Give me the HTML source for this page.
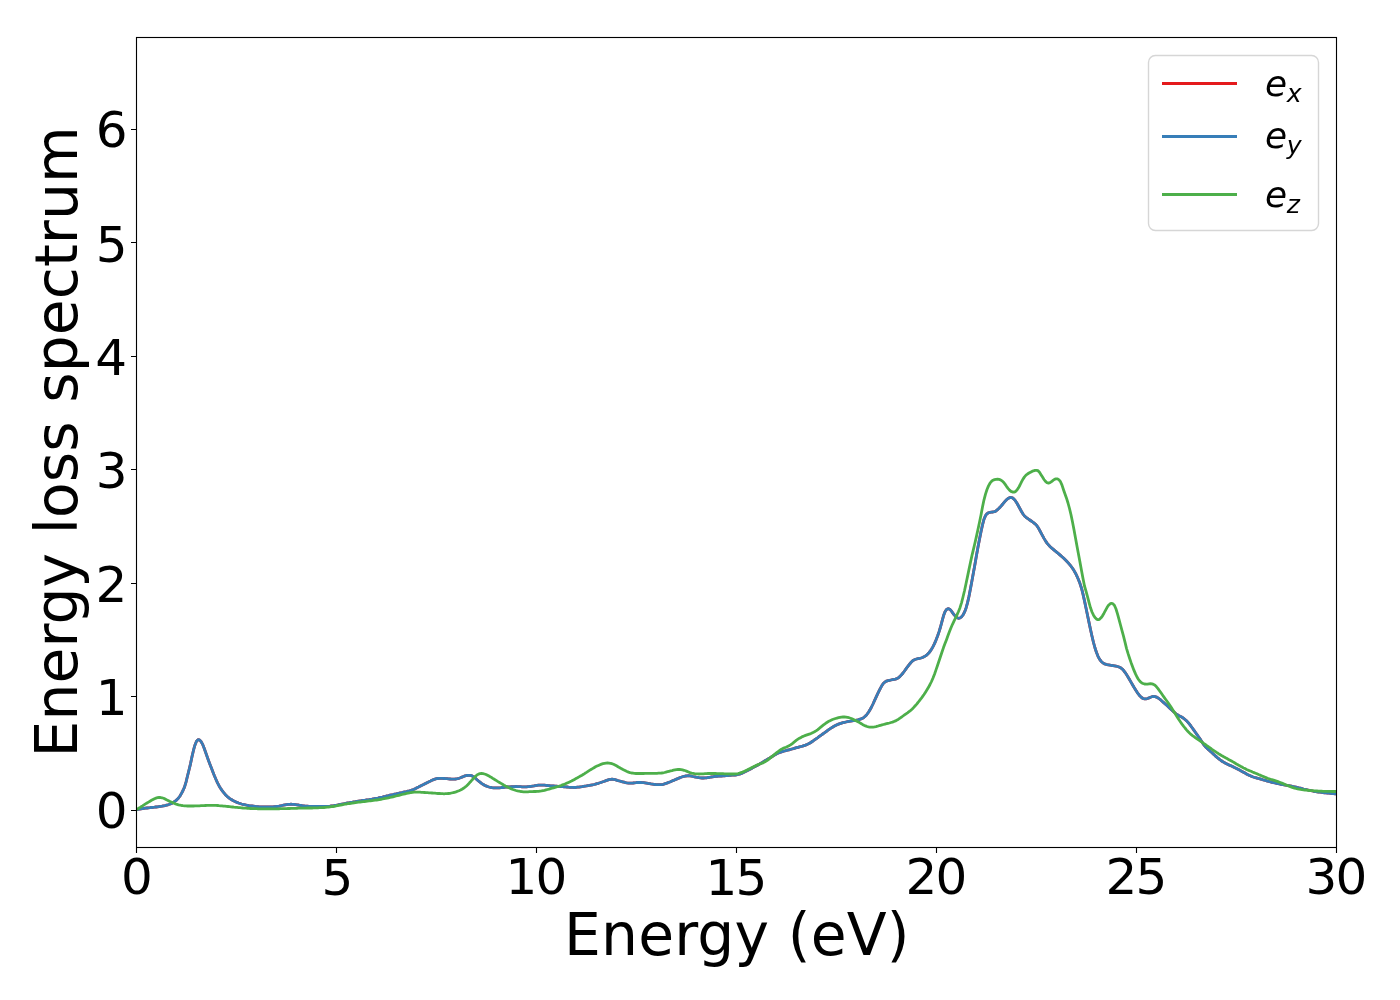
<!DOCTYPE html>
<html><head><meta charset="utf-8"><title>Energy loss spectrum</title>
<style>html,body{margin:0;padding:0;background:#fff;}svg{display:block;}</style>
</head><body>
<svg width="1400" height="1000" viewBox="0 0 1400 1000">
<rect x="0" y="0" width="1400" height="1000" fill="#fff"/>
<clipPath id="c"><rect x="136.5" y="37.5" width="1200" height="810"/></clipPath>
<g clip-path="url(#c)" fill="none" stroke-width="2.78" stroke-linejoin="round" stroke-linecap="butt">
<path d="M136.5 809.7 L138.0 809.4 L139.5 809.2 L141.0 808.9 L142.5 808.7 L144.0 808.4 L145.5 808.2 L147.0 808.0 L148.5 807.8 L150.0 807.7 L151.5 807.5 L153.0 807.3 L154.5 807.2 L156.0 807.0 L157.5 806.8 L159.0 806.6 L160.5 806.4 L162.0 806.2 L163.5 805.9 L165.0 805.6 L166.5 805.2 L168.0 804.8 L169.5 804.3 L171.0 803.7 L172.5 802.9 L174.0 801.9 L175.5 800.9 L177.0 799.6 L178.5 798.0 L180.0 796.0 L181.5 793.4 L183.0 790.5 L184.5 787.2 L186.0 782.1 L187.5 776.0 L189.0 770.0 L190.5 763.8 L192.0 756.6 L193.5 750.2 L195.0 744.9 L196.5 741.2 L198.0 739.7 L199.5 739.9 L201.0 741.5 L202.5 744.1 L204.0 747.8 L205.5 752.0 L207.0 756.3 L208.5 760.4 L210.0 764.4 L211.5 768.3 L213.0 772.2 L214.5 776.0 L216.0 779.5 L217.5 782.8 L219.0 785.7 L220.5 788.2 L222.0 790.4 L223.5 792.4 L225.0 794.2 L226.5 795.8 L228.0 797.2 L229.5 798.3 L231.0 799.3 L232.5 800.2 L234.0 801.0 L235.5 801.7 L237.0 802.4 L238.5 803.0 L240.0 803.5 L241.5 804.0 L243.0 804.4 L244.5 804.7 L246.0 805.0 L247.5 805.3 L249.0 805.6 L250.5 805.8 L252.0 806.0 L253.5 806.2 L255.0 806.4 L256.5 806.6 L258.0 806.7 L259.5 806.8 L261.0 806.9 L262.5 807.0 L264.0 807.0 L265.5 807.0 L267.0 807.0 L268.5 807.0 L270.0 806.9 L271.5 806.9 L273.0 806.8 L274.5 806.6 L276.0 806.5 L277.5 806.3 L279.0 806.1 L280.5 805.8 L282.0 805.5 L283.5 805.2 L285.0 804.9 L286.5 804.6 L288.0 804.4 L289.5 804.3 L291.0 804.2 L292.5 804.3 L294.0 804.4 L295.5 804.6 L297.0 804.8 L298.5 805.0 L300.0 805.3 L301.5 805.5 L303.0 805.8 L304.5 806.0 L306.0 806.1 L307.5 806.2 L309.0 806.3 L310.5 806.4 L312.0 806.5 L313.5 806.5 L315.0 806.5 L316.5 806.5 L318.0 806.5 L319.5 806.5 L321.0 806.5 L322.5 806.4 L324.0 806.4 L325.5 806.4 L327.0 806.4 L328.5 806.3 L330.0 806.2 L331.5 806.0 L333.0 805.8 L334.5 805.5 L336.0 805.3 L337.5 805.0 L339.0 804.7 L340.5 804.4 L342.0 804.1 L343.5 803.8 L345.0 803.5 L346.5 803.2 L348.0 802.9 L349.5 802.7 L351.0 802.4 L352.5 802.2 L354.0 801.9 L355.5 801.7 L357.0 801.4 L358.5 801.2 L360.0 801.0 L361.5 800.7 L363.0 800.5 L364.5 800.3 L366.0 800.0 L367.5 799.8 L369.0 799.6 L370.5 799.3 L372.0 799.1 L373.5 798.8 L375.0 798.5 L376.5 798.3 L378.0 798.0 L379.5 797.6 L381.0 797.3 L382.5 797.0 L384.0 796.6 L385.5 796.3 L387.0 795.9 L388.5 795.6 L390.0 795.2 L391.5 794.9 L393.0 794.6 L394.5 794.2 L396.0 793.9 L397.5 793.5 L399.0 793.2 L400.5 792.8 L402.0 792.5 L403.5 792.1 L405.0 791.8 L406.5 791.5 L408.0 791.1 L409.5 790.8 L411.0 790.4 L412.5 789.9 L414.0 789.2 L415.5 788.6 L417.0 787.8 L418.5 787.1 L420.0 786.3 L421.5 785.5 L423.0 784.8 L424.5 784.0 L426.0 783.2 L427.5 782.4 L429.0 781.7 L430.5 781.0 L432.0 780.2 L433.5 779.6 L435.0 779.1 L436.5 778.7 L438.0 778.5 L439.5 778.3 L441.0 778.3 L442.5 778.4 L444.0 778.5 L445.5 778.6 L447.0 778.7 L448.5 778.9 L450.0 779.0 L451.5 779.1 L453.0 779.2 L454.5 779.2 L456.0 779.0 L457.5 778.7 L459.0 778.3 L460.5 777.8 L462.0 777.1 L463.5 776.5 L465.0 775.9 L466.5 775.5 L468.0 775.3 L469.5 775.3 L471.0 775.5 L472.5 776.1 L474.0 777.0 L475.5 778.3 L477.0 779.7 L478.5 781.0 L480.0 782.2 L481.5 783.3 L483.0 784.3 L484.5 785.2 L486.0 785.9 L487.5 786.5 L489.0 787.0 L490.5 787.3 L492.0 787.6 L493.5 787.8 L495.0 787.9 L496.5 787.9 L498.0 787.9 L499.5 787.8 L501.0 787.7 L502.5 787.5 L504.0 787.3 L505.5 787.1 L507.0 787.0 L508.5 786.9 L510.0 786.8 L511.5 786.7 L513.0 786.6 L514.5 786.6 L516.0 786.5 L517.5 786.6 L519.0 786.7 L520.5 786.7 L522.0 786.8 L523.5 786.9 L525.0 786.9 L526.5 786.8 L528.0 786.6 L529.5 786.5 L531.0 786.3 L532.5 786.1 L534.0 785.9 L535.5 785.6 L537.0 785.4 L538.5 785.2 L540.0 785.1 L541.5 785.1 L543.0 785.1 L544.5 785.2 L546.0 785.3 L547.5 785.5 L549.0 785.6 L550.5 785.8 L552.0 785.9 L553.5 786.0 L555.0 786.1 L556.5 786.2 L558.0 786.3 L559.5 786.4 L561.0 786.5 L562.5 786.7 L564.0 786.8 L565.5 786.9 L567.0 787.0 L568.5 787.2 L570.0 787.3 L571.5 787.4 L573.0 787.4 L574.5 787.5 L576.0 787.4 L577.5 787.2 L579.0 787.1 L580.5 786.8 L582.0 786.6 L583.5 786.3 L585.0 786.1 L586.5 785.9 L588.0 785.6 L589.5 785.4 L591.0 785.1 L592.5 784.8 L594.0 784.5 L595.5 784.1 L597.0 783.7 L598.5 783.3 L600.0 782.8 L601.5 782.2 L603.0 781.7 L604.5 781.2 L606.0 780.6 L607.5 780.1 L609.0 779.6 L610.5 779.3 L612.0 779.2 L613.5 779.4 L615.0 779.7 L616.5 780.1 L618.0 780.6 L619.5 781.0 L621.0 781.4 L622.5 781.8 L624.0 782.2 L625.5 782.6 L627.0 782.9 L628.5 783.1 L630.0 783.1 L631.5 783.1 L633.0 783.0 L634.5 782.8 L636.0 782.7 L637.5 782.5 L639.0 782.5 L640.5 782.5 L642.0 782.6 L643.5 782.7 L645.0 782.9 L646.5 783.1 L648.0 783.4 L649.5 783.6 L651.0 783.9 L652.5 784.1 L654.0 784.3 L655.5 784.5 L657.0 784.6 L658.5 784.7 L660.0 784.7 L661.5 784.6 L663.0 784.3 L664.5 783.9 L666.0 783.4 L667.5 782.9 L669.0 782.3 L670.5 781.7 L672.0 781.0 L673.5 780.4 L675.0 779.7 L676.5 779.1 L678.0 778.5 L679.5 777.9 L681.0 777.3 L682.5 776.8 L684.0 776.3 L685.5 776.0 L687.0 775.8 L688.5 775.7 L690.0 775.9 L691.5 776.1 L693.0 776.5 L694.5 776.8 L696.0 777.2 L697.5 777.4 L699.0 777.7 L700.5 777.9 L702.0 778.0 L703.5 778.0 L705.0 777.9 L706.5 777.8 L708.0 777.5 L709.5 777.3 L711.0 777.0 L712.5 776.8 L714.0 776.6 L715.5 776.4 L717.0 776.3 L718.5 776.2 L720.0 776.1 L721.5 776.0 L723.0 775.9 L724.5 775.8 L726.0 775.7 L727.5 775.6 L729.0 775.4 L730.5 775.3 L732.0 775.2 L733.5 775.1 L735.0 775.0 L736.5 774.8 L738.0 774.5 L739.5 774.2 L741.0 773.7 L742.5 773.0 L744.0 772.3 L745.5 771.6 L747.0 770.8 L748.5 770.0 L750.0 769.2 L751.5 768.4 L753.0 767.6 L754.5 766.8 L756.0 766.0 L757.5 765.2 L759.0 764.4 L760.5 763.5 L762.0 762.6 L763.5 761.7 L765.0 760.8 L766.5 759.9 L768.0 759.0 L769.5 758.1 L771.0 757.2 L772.5 756.3 L774.0 755.3 L775.5 754.5 L777.0 753.6 L778.5 752.9 L780.0 752.4 L781.5 751.9 L783.0 751.4 L784.5 751.0 L786.0 750.6 L787.5 750.2 L789.0 749.8 L790.5 749.4 L792.0 749.0 L793.5 748.6 L795.0 748.1 L796.5 747.7 L798.0 747.3 L799.5 746.9 L801.0 746.5 L802.5 746.1 L804.0 745.6 L805.5 745.1 L807.0 744.5 L808.5 743.8 L810.0 743.0 L811.5 742.0 L813.0 741.0 L814.5 739.9 L816.0 738.8 L817.5 737.8 L819.0 736.7 L820.5 735.6 L822.0 734.5 L823.5 733.5 L825.0 732.4 L826.5 731.3 L828.0 730.2 L829.5 729.2 L831.0 728.2 L832.5 727.2 L834.0 726.3 L835.5 725.5 L837.0 724.7 L838.5 724.1 L840.0 723.6 L841.5 723.1 L843.0 722.7 L844.5 722.3 L846.0 722.0 L847.5 721.7 L849.0 721.4 L850.5 721.2 L852.0 720.9 L853.5 720.7 L855.0 720.5 L856.5 720.2 L858.0 719.9 L859.5 719.4 L861.0 718.9 L862.5 718.3 L864.0 717.3 L865.5 716.0 L867.0 714.3 L868.5 712.2 L870.0 709.8 L871.5 707.0 L873.0 704.0 L874.5 700.7 L876.0 697.4 L877.5 694.2 L879.0 691.0 L880.5 688.1 L882.0 685.4 L883.5 683.3 L885.0 681.9 L886.5 681.1 L888.0 680.6 L889.5 680.3 L891.0 680.0 L892.5 679.7 L894.0 679.4 L895.5 679.1 L897.0 678.5 L898.5 677.7 L900.0 676.4 L901.5 674.8 L903.0 673.0 L904.5 671.0 L906.0 668.9 L907.5 666.8 L909.0 664.8 L910.5 663.0 L912.0 661.4 L913.5 660.2 L915.0 659.5 L916.5 659.0 L918.0 658.6 L919.5 658.3 L921.0 658.0 L922.5 657.5 L924.0 656.8 L925.5 655.9 L927.0 654.8 L928.5 653.3 L930.0 651.5 L931.5 649.2 L933.0 646.6 L934.5 643.6 L936.0 640.1 L937.5 636.3 L939.0 631.9 L940.5 627.0 L942.0 621.3 L943.5 615.8 L945.0 611.8 L946.5 609.5 L948.0 608.7 L949.5 609.1 L951.0 610.5 L952.5 612.6 L954.0 614.7 L955.5 616.4 L957.0 617.7 L958.5 618.3 L960.0 618.0 L961.5 616.9 L963.0 615.0 L964.5 612.2 L966.0 608.2 L967.5 602.9 L969.0 596.2 L970.5 588.6 L972.0 580.5 L973.5 572.3 L975.0 564.0 L976.5 555.3 L978.0 546.9 L979.5 539.2 L981.0 531.8 L982.5 524.9 L984.0 519.2 L985.5 515.6 L987.0 513.7 L988.5 512.8 L990.0 512.3 L991.5 512.1 L993.0 512.0 L994.5 511.7 L996.0 510.9 L997.5 509.7 L999.0 508.3 L1000.5 506.7 L1002.0 505.0 L1003.5 503.2 L1005.0 501.4 L1006.5 499.8 L1008.0 498.5 L1009.5 497.7 L1011.0 497.5 L1012.5 497.9 L1014.0 499.1 L1015.5 500.9 L1017.0 503.3 L1018.5 506.0 L1020.0 508.7 L1021.5 511.5 L1023.0 514.0 L1024.5 516.0 L1026.0 517.3 L1027.5 518.4 L1029.0 519.5 L1030.5 520.5 L1032.0 521.5 L1033.5 522.6 L1035.0 523.8 L1036.5 525.3 L1038.0 527.4 L1039.5 530.0 L1041.0 532.9 L1042.5 535.7 L1044.0 538.4 L1045.5 540.9 L1047.0 543.1 L1048.5 544.9 L1050.0 546.5 L1051.5 547.9 L1053.0 549.1 L1054.5 550.4 L1056.0 551.6 L1057.5 552.8 L1059.0 554.1 L1060.5 555.4 L1062.0 556.7 L1063.5 558.0 L1065.0 559.5 L1066.5 561.0 L1068.0 562.7 L1069.5 564.4 L1071.0 566.2 L1072.5 568.3 L1074.0 570.6 L1075.5 573.2 L1077.0 576.3 L1078.5 579.8 L1080.0 583.6 L1081.5 588.2 L1083.0 594.1 L1084.5 600.9 L1086.0 608.0 L1087.5 615.2 L1089.0 622.4 L1090.5 629.5 L1092.0 636.2 L1093.5 642.5 L1095.0 648.0 L1096.5 652.5 L1098.0 656.3 L1099.5 659.2 L1101.0 661.2 L1102.5 662.6 L1104.0 663.6 L1105.5 664.2 L1107.0 664.6 L1108.5 664.9 L1110.0 665.2 L1111.5 665.5 L1113.0 665.7 L1114.5 665.9 L1116.0 666.2 L1117.5 666.5 L1119.0 667.0 L1120.5 667.7 L1122.0 668.8 L1123.5 670.3 L1125.0 672.3 L1126.5 674.6 L1128.0 677.0 L1129.5 679.5 L1131.0 682.1 L1132.5 684.7 L1134.0 687.3 L1135.5 689.7 L1137.0 692.1 L1138.5 694.2 L1140.0 696.1 L1141.5 697.5 L1143.0 698.5 L1144.5 698.9 L1146.0 698.9 L1147.5 698.5 L1149.0 697.9 L1150.5 697.2 L1152.0 696.7 L1153.5 696.5 L1155.0 696.6 L1156.5 697.1 L1158.0 697.9 L1159.5 699.0 L1161.0 700.2 L1162.5 701.6 L1164.0 702.9 L1165.5 704.2 L1167.0 705.6 L1168.5 707.0 L1170.0 708.4 L1171.5 709.8 L1173.0 711.2 L1174.5 712.5 L1176.0 713.8 L1177.5 714.8 L1179.0 715.7 L1180.5 716.4 L1182.0 717.3 L1183.5 718.2 L1185.0 719.5 L1186.5 720.8 L1188.0 722.4 L1189.5 724.2 L1191.0 726.2 L1192.5 728.3 L1194.0 730.4 L1195.5 732.5 L1197.0 734.6 L1198.5 736.7 L1200.0 738.9 L1201.5 741.2 L1203.0 743.6 L1204.5 745.6 L1206.0 747.3 L1207.5 748.8 L1209.0 750.1 L1210.5 751.5 L1212.0 752.8 L1213.5 754.2 L1215.0 755.6 L1216.5 756.9 L1218.0 758.2 L1219.5 759.4 L1221.0 760.5 L1222.5 761.5 L1224.0 762.4 L1225.5 763.3 L1227.0 764.0 L1228.5 764.7 L1230.0 765.4 L1231.5 766.0 L1233.0 766.7 L1234.5 767.5 L1236.0 768.2 L1237.5 769.0 L1239.0 769.8 L1240.5 770.6 L1242.0 771.5 L1243.5 772.3 L1245.0 773.1 L1246.5 773.9 L1248.0 774.7 L1249.5 775.4 L1251.0 776.1 L1252.5 776.7 L1254.0 777.2 L1255.5 777.7 L1257.0 778.1 L1258.5 778.5 L1260.0 778.9 L1261.5 779.3 L1263.0 779.8 L1264.5 780.2 L1266.0 780.6 L1267.5 781.1 L1269.0 781.5 L1270.5 781.9 L1272.0 782.3 L1273.5 782.6 L1275.0 783.0 L1276.5 783.3 L1278.0 783.6 L1279.5 783.9 L1281.0 784.3 L1282.5 784.5 L1284.0 784.8 L1285.5 785.1 L1287.0 785.4 L1288.5 785.6 L1290.0 785.9 L1291.5 786.2 L1293.0 786.5 L1294.5 786.8 L1296.0 787.1 L1297.5 787.5 L1299.0 787.9 L1300.5 788.2 L1302.0 788.6 L1303.5 789.0 L1305.0 789.3 L1306.5 789.7 L1308.0 790.0 L1309.5 790.3 L1311.0 790.7 L1312.5 791.0 L1314.0 791.3 L1315.5 791.5 L1317.0 791.8 L1318.5 792.0 L1320.0 792.2 L1321.5 792.4 L1323.0 792.6 L1324.5 792.8 L1326.0 792.9 L1327.5 793.1 L1329.0 793.2 L1330.5 793.3 L1332.0 793.5 L1333.5 793.6 L1335.0 793.8 L1336.5 793.9" stroke="#e41a1c"/>
<path d="M136.5 809.7 L138.0 809.4 L139.5 809.2 L141.0 808.9 L142.5 808.7 L144.0 808.4 L145.5 808.2 L147.0 808.0 L148.5 807.8 L150.0 807.7 L151.5 807.5 L153.0 807.3 L154.5 807.2 L156.0 807.0 L157.5 806.8 L159.0 806.6 L160.5 806.4 L162.0 806.2 L163.5 805.9 L165.0 805.6 L166.5 805.2 L168.0 804.8 L169.5 804.3 L171.0 803.7 L172.5 802.9 L174.0 801.9 L175.5 800.9 L177.0 799.6 L178.5 798.0 L180.0 796.0 L181.5 793.4 L183.0 790.5 L184.5 787.2 L186.0 782.1 L187.5 776.0 L189.0 770.0 L190.5 763.8 L192.0 756.6 L193.5 750.2 L195.0 744.9 L196.5 741.2 L198.0 739.7 L199.5 739.9 L201.0 741.5 L202.5 744.1 L204.0 747.8 L205.5 752.0 L207.0 756.3 L208.5 760.4 L210.0 764.4 L211.5 768.3 L213.0 772.2 L214.5 776.0 L216.0 779.5 L217.5 782.8 L219.0 785.7 L220.5 788.2 L222.0 790.4 L223.5 792.4 L225.0 794.2 L226.5 795.8 L228.0 797.2 L229.5 798.3 L231.0 799.3 L232.5 800.2 L234.0 801.0 L235.5 801.7 L237.0 802.4 L238.5 803.0 L240.0 803.5 L241.5 804.0 L243.0 804.4 L244.5 804.7 L246.0 805.0 L247.5 805.3 L249.0 805.6 L250.5 805.8 L252.0 806.0 L253.5 806.2 L255.0 806.4 L256.5 806.6 L258.0 806.7 L259.5 806.8 L261.0 806.9 L262.5 807.0 L264.0 807.0 L265.5 807.0 L267.0 807.0 L268.5 807.0 L270.0 806.9 L271.5 806.9 L273.0 806.8 L274.5 806.6 L276.0 806.5 L277.5 806.3 L279.0 806.1 L280.5 805.8 L282.0 805.5 L283.5 805.2 L285.0 804.9 L286.5 804.6 L288.0 804.4 L289.5 804.3 L291.0 804.2 L292.5 804.3 L294.0 804.4 L295.5 804.6 L297.0 804.8 L298.5 805.0 L300.0 805.3 L301.5 805.5 L303.0 805.8 L304.5 806.0 L306.0 806.1 L307.5 806.2 L309.0 806.3 L310.5 806.4 L312.0 806.5 L313.5 806.5 L315.0 806.5 L316.5 806.5 L318.0 806.5 L319.5 806.5 L321.0 806.5 L322.5 806.4 L324.0 806.4 L325.5 806.4 L327.0 806.4 L328.5 806.3 L330.0 806.2 L331.5 806.0 L333.0 805.8 L334.5 805.5 L336.0 805.3 L337.5 805.0 L339.0 804.7 L340.5 804.4 L342.0 804.1 L343.5 803.8 L345.0 803.5 L346.5 803.2 L348.0 802.9 L349.5 802.7 L351.0 802.4 L352.5 802.2 L354.0 801.9 L355.5 801.7 L357.0 801.4 L358.5 801.2 L360.0 801.0 L361.5 800.7 L363.0 800.5 L364.5 800.3 L366.0 800.0 L367.5 799.8 L369.0 799.6 L370.5 799.3 L372.0 799.1 L373.5 798.8 L375.0 798.5 L376.5 798.3 L378.0 798.0 L379.5 797.6 L381.0 797.3 L382.5 797.0 L384.0 796.6 L385.5 796.3 L387.0 795.9 L388.5 795.6 L390.0 795.2 L391.5 794.9 L393.0 794.6 L394.5 794.2 L396.0 793.9 L397.5 793.5 L399.0 793.2 L400.5 792.8 L402.0 792.5 L403.5 792.1 L405.0 791.8 L406.5 791.5 L408.0 791.1 L409.5 790.8 L411.0 790.4 L412.5 789.9 L414.0 789.2 L415.5 788.6 L417.0 787.8 L418.5 787.1 L420.0 786.3 L421.5 785.5 L423.0 784.8 L424.5 784.0 L426.0 783.2 L427.5 782.4 L429.0 781.7 L430.5 781.0 L432.0 780.2 L433.5 779.6 L435.0 779.1 L436.5 778.7 L438.0 778.5 L439.5 778.3 L441.0 778.3 L442.5 778.4 L444.0 778.5 L445.5 778.6 L447.0 778.7 L448.5 778.9 L450.0 779.0 L451.5 779.1 L453.0 779.2 L454.5 779.2 L456.0 779.0 L457.5 778.7 L459.0 778.3 L460.5 777.8 L462.0 777.1 L463.5 776.5 L465.0 775.9 L466.5 775.5 L468.0 775.3 L469.5 775.3 L471.0 775.5 L472.5 776.1 L474.0 777.0 L475.5 778.3 L477.0 779.7 L478.5 781.0 L480.0 782.2 L481.5 783.3 L483.0 784.3 L484.5 785.2 L486.0 785.9 L487.5 786.5 L489.0 787.0 L490.5 787.3 L492.0 787.6 L493.5 787.8 L495.0 787.9 L496.5 787.9 L498.0 787.9 L499.5 787.8 L501.0 787.7 L502.5 787.5 L504.0 787.3 L505.5 787.1 L507.0 787.0 L508.5 786.9 L510.0 786.8 L511.5 786.7 L513.0 786.6 L514.5 786.6 L516.0 786.5 L517.5 786.6 L519.0 786.7 L520.5 786.7 L522.0 786.8 L523.5 786.9 L525.0 786.9 L526.5 786.8 L528.0 786.6 L529.5 786.5 L531.0 786.3 L532.5 786.1 L534.0 785.9 L535.5 785.6 L537.0 785.4 L538.5 785.2 L540.0 785.1 L541.5 785.1 L543.0 785.1 L544.5 785.2 L546.0 785.3 L547.5 785.5 L549.0 785.6 L550.5 785.8 L552.0 785.9 L553.5 786.0 L555.0 786.1 L556.5 786.2 L558.0 786.3 L559.5 786.4 L561.0 786.5 L562.5 786.7 L564.0 786.8 L565.5 786.9 L567.0 787.0 L568.5 787.2 L570.0 787.3 L571.5 787.4 L573.0 787.4 L574.5 787.5 L576.0 787.4 L577.5 787.2 L579.0 787.1 L580.5 786.8 L582.0 786.6 L583.5 786.3 L585.0 786.1 L586.5 785.9 L588.0 785.6 L589.5 785.4 L591.0 785.1 L592.5 784.8 L594.0 784.5 L595.5 784.1 L597.0 783.7 L598.5 783.3 L600.0 782.8 L601.5 782.2 L603.0 781.7 L604.5 781.2 L606.0 780.6 L607.5 780.1 L609.0 779.6 L610.5 779.3 L612.0 779.2 L613.5 779.4 L615.0 779.7 L616.5 780.1 L618.0 780.6 L619.5 781.0 L621.0 781.4 L622.5 781.8 L624.0 782.2 L625.5 782.6 L627.0 782.9 L628.5 783.1 L630.0 783.1 L631.5 783.1 L633.0 783.0 L634.5 782.8 L636.0 782.7 L637.5 782.5 L639.0 782.5 L640.5 782.5 L642.0 782.6 L643.5 782.7 L645.0 782.9 L646.5 783.1 L648.0 783.4 L649.5 783.6 L651.0 783.9 L652.5 784.1 L654.0 784.3 L655.5 784.5 L657.0 784.6 L658.5 784.7 L660.0 784.7 L661.5 784.6 L663.0 784.3 L664.5 783.9 L666.0 783.4 L667.5 782.9 L669.0 782.3 L670.5 781.7 L672.0 781.0 L673.5 780.4 L675.0 779.7 L676.5 779.1 L678.0 778.5 L679.5 777.9 L681.0 777.3 L682.5 776.8 L684.0 776.3 L685.5 776.0 L687.0 775.8 L688.5 775.7 L690.0 775.9 L691.5 776.1 L693.0 776.5 L694.5 776.8 L696.0 777.2 L697.5 777.4 L699.0 777.7 L700.5 777.9 L702.0 778.0 L703.5 778.0 L705.0 777.9 L706.5 777.8 L708.0 777.5 L709.5 777.3 L711.0 777.0 L712.5 776.8 L714.0 776.6 L715.5 776.4 L717.0 776.3 L718.5 776.2 L720.0 776.1 L721.5 776.0 L723.0 775.9 L724.5 775.8 L726.0 775.7 L727.5 775.6 L729.0 775.4 L730.5 775.3 L732.0 775.2 L733.5 775.1 L735.0 775.0 L736.5 774.8 L738.0 774.5 L739.5 774.2 L741.0 773.7 L742.5 773.0 L744.0 772.3 L745.5 771.6 L747.0 770.8 L748.5 770.0 L750.0 769.2 L751.5 768.4 L753.0 767.6 L754.5 766.8 L756.0 766.0 L757.5 765.2 L759.0 764.4 L760.5 763.5 L762.0 762.6 L763.5 761.7 L765.0 760.8 L766.5 759.9 L768.0 759.0 L769.5 758.1 L771.0 757.2 L772.5 756.3 L774.0 755.3 L775.5 754.5 L777.0 753.6 L778.5 752.9 L780.0 752.4 L781.5 751.9 L783.0 751.4 L784.5 751.0 L786.0 750.6 L787.5 750.2 L789.0 749.8 L790.5 749.4 L792.0 749.0 L793.5 748.6 L795.0 748.1 L796.5 747.7 L798.0 747.3 L799.5 746.9 L801.0 746.5 L802.5 746.1 L804.0 745.6 L805.5 745.1 L807.0 744.5 L808.5 743.8 L810.0 743.0 L811.5 742.0 L813.0 741.0 L814.5 739.9 L816.0 738.8 L817.5 737.8 L819.0 736.7 L820.5 735.6 L822.0 734.5 L823.5 733.5 L825.0 732.4 L826.5 731.3 L828.0 730.2 L829.5 729.2 L831.0 728.2 L832.5 727.2 L834.0 726.3 L835.5 725.5 L837.0 724.7 L838.5 724.1 L840.0 723.6 L841.5 723.1 L843.0 722.7 L844.5 722.3 L846.0 722.0 L847.5 721.7 L849.0 721.4 L850.5 721.2 L852.0 720.9 L853.5 720.7 L855.0 720.5 L856.5 720.2 L858.0 719.9 L859.5 719.4 L861.0 718.9 L862.5 718.3 L864.0 717.3 L865.5 716.0 L867.0 714.3 L868.5 712.2 L870.0 709.8 L871.5 707.0 L873.0 704.0 L874.5 700.7 L876.0 697.4 L877.5 694.2 L879.0 691.0 L880.5 688.1 L882.0 685.4 L883.5 683.3 L885.0 681.9 L886.5 681.1 L888.0 680.6 L889.5 680.3 L891.0 680.0 L892.5 679.7 L894.0 679.4 L895.5 679.1 L897.0 678.5 L898.5 677.7 L900.0 676.4 L901.5 674.8 L903.0 673.0 L904.5 671.0 L906.0 668.9 L907.5 666.8 L909.0 664.8 L910.5 663.0 L912.0 661.4 L913.5 660.2 L915.0 659.5 L916.5 659.0 L918.0 658.6 L919.5 658.3 L921.0 658.0 L922.5 657.5 L924.0 656.8 L925.5 655.9 L927.0 654.8 L928.5 653.3 L930.0 651.5 L931.5 649.2 L933.0 646.6 L934.5 643.6 L936.0 640.1 L937.5 636.3 L939.0 631.9 L940.5 627.0 L942.0 621.3 L943.5 615.8 L945.0 611.8 L946.5 609.5 L948.0 608.7 L949.5 609.1 L951.0 610.5 L952.5 612.6 L954.0 614.7 L955.5 616.4 L957.0 617.7 L958.5 618.3 L960.0 618.0 L961.5 616.9 L963.0 615.0 L964.5 612.2 L966.0 608.2 L967.5 602.9 L969.0 596.2 L970.5 588.6 L972.0 580.5 L973.5 572.3 L975.0 564.0 L976.5 555.3 L978.0 546.9 L979.5 539.2 L981.0 531.8 L982.5 524.9 L984.0 519.2 L985.5 515.6 L987.0 513.7 L988.5 512.8 L990.0 512.3 L991.5 512.1 L993.0 512.0 L994.5 511.7 L996.0 510.9 L997.5 509.7 L999.0 508.3 L1000.5 506.7 L1002.0 505.0 L1003.5 503.2 L1005.0 501.4 L1006.5 499.8 L1008.0 498.5 L1009.5 497.7 L1011.0 497.5 L1012.5 497.9 L1014.0 499.1 L1015.5 500.9 L1017.0 503.3 L1018.5 506.0 L1020.0 508.7 L1021.5 511.5 L1023.0 514.0 L1024.5 516.0 L1026.0 517.3 L1027.5 518.4 L1029.0 519.5 L1030.5 520.5 L1032.0 521.5 L1033.5 522.6 L1035.0 523.8 L1036.5 525.3 L1038.0 527.4 L1039.5 530.0 L1041.0 532.9 L1042.5 535.7 L1044.0 538.4 L1045.5 540.9 L1047.0 543.1 L1048.5 544.9 L1050.0 546.5 L1051.5 547.9 L1053.0 549.1 L1054.5 550.4 L1056.0 551.6 L1057.5 552.8 L1059.0 554.1 L1060.5 555.4 L1062.0 556.7 L1063.5 558.0 L1065.0 559.5 L1066.5 561.0 L1068.0 562.7 L1069.5 564.4 L1071.0 566.2 L1072.5 568.3 L1074.0 570.6 L1075.5 573.2 L1077.0 576.3 L1078.5 579.8 L1080.0 583.6 L1081.5 588.2 L1083.0 594.1 L1084.5 600.9 L1086.0 608.0 L1087.5 615.2 L1089.0 622.4 L1090.5 629.5 L1092.0 636.2 L1093.5 642.5 L1095.0 648.0 L1096.5 652.5 L1098.0 656.3 L1099.5 659.2 L1101.0 661.2 L1102.5 662.6 L1104.0 663.6 L1105.5 664.2 L1107.0 664.6 L1108.5 664.9 L1110.0 665.2 L1111.5 665.5 L1113.0 665.7 L1114.5 665.9 L1116.0 666.2 L1117.5 666.5 L1119.0 667.0 L1120.5 667.7 L1122.0 668.8 L1123.5 670.3 L1125.0 672.3 L1126.5 674.6 L1128.0 677.0 L1129.5 679.5 L1131.0 682.1 L1132.5 684.7 L1134.0 687.3 L1135.5 689.7 L1137.0 692.1 L1138.5 694.2 L1140.0 696.1 L1141.5 697.5 L1143.0 698.5 L1144.5 698.9 L1146.0 698.9 L1147.5 698.5 L1149.0 697.9 L1150.5 697.2 L1152.0 696.7 L1153.5 696.5 L1155.0 696.6 L1156.5 697.1 L1158.0 697.9 L1159.5 699.0 L1161.0 700.2 L1162.5 701.6 L1164.0 702.9 L1165.5 704.2 L1167.0 705.6 L1168.5 707.0 L1170.0 708.4 L1171.5 709.8 L1173.0 711.2 L1174.5 712.5 L1176.0 713.8 L1177.5 714.8 L1179.0 715.7 L1180.5 716.4 L1182.0 717.3 L1183.5 718.2 L1185.0 719.5 L1186.5 720.8 L1188.0 722.4 L1189.5 724.2 L1191.0 726.2 L1192.5 728.3 L1194.0 730.4 L1195.5 732.5 L1197.0 734.6 L1198.5 736.7 L1200.0 738.9 L1201.5 741.2 L1203.0 743.6 L1204.5 745.6 L1206.0 747.3 L1207.5 748.8 L1209.0 750.1 L1210.5 751.5 L1212.0 752.8 L1213.5 754.2 L1215.0 755.6 L1216.5 756.9 L1218.0 758.2 L1219.5 759.4 L1221.0 760.5 L1222.5 761.5 L1224.0 762.4 L1225.5 763.3 L1227.0 764.0 L1228.5 764.7 L1230.0 765.4 L1231.5 766.0 L1233.0 766.7 L1234.5 767.5 L1236.0 768.2 L1237.5 769.0 L1239.0 769.8 L1240.5 770.6 L1242.0 771.5 L1243.5 772.3 L1245.0 773.1 L1246.5 773.9 L1248.0 774.7 L1249.5 775.4 L1251.0 776.1 L1252.5 776.7 L1254.0 777.2 L1255.5 777.7 L1257.0 778.1 L1258.5 778.5 L1260.0 778.9 L1261.5 779.3 L1263.0 779.8 L1264.5 780.2 L1266.0 780.6 L1267.5 781.1 L1269.0 781.5 L1270.5 781.9 L1272.0 782.3 L1273.5 782.6 L1275.0 783.0 L1276.5 783.3 L1278.0 783.6 L1279.5 783.9 L1281.0 784.3 L1282.5 784.5 L1284.0 784.8 L1285.5 785.1 L1287.0 785.4 L1288.5 785.6 L1290.0 785.9 L1291.5 786.2 L1293.0 786.5 L1294.5 786.8 L1296.0 787.1 L1297.5 787.5 L1299.0 787.9 L1300.5 788.2 L1302.0 788.6 L1303.5 789.0 L1305.0 789.3 L1306.5 789.7 L1308.0 790.0 L1309.5 790.3 L1311.0 790.7 L1312.5 791.0 L1314.0 791.3 L1315.5 791.5 L1317.0 791.8 L1318.5 792.0 L1320.0 792.2 L1321.5 792.4 L1323.0 792.6 L1324.5 792.8 L1326.0 792.9 L1327.5 793.1 L1329.0 793.2 L1330.5 793.3 L1332.0 793.5 L1333.5 793.6 L1335.0 793.8 L1336.5 793.9" stroke="#377eb8"/>
<path d="M136.5 809.7 L138.0 808.7 L139.5 807.8 L141.0 806.8 L142.5 805.9 L144.0 804.9 L145.5 803.9 L147.0 803.0 L148.5 802.1 L150.0 801.2 L151.5 800.3 L153.0 799.5 L154.5 798.7 L156.0 798.1 L157.5 797.7 L159.0 797.5 L160.5 797.5 L162.0 797.8 L163.5 798.3 L165.0 798.9 L166.5 799.7 L168.0 800.4 L169.5 801.2 L171.0 801.9 L172.5 802.6 L174.0 803.3 L175.5 803.9 L177.0 804.4 L178.5 804.9 L180.0 805.2 L181.5 805.5 L183.0 805.7 L184.5 805.8 L186.0 805.9 L187.5 806.0 L189.0 806.0 L190.5 806.0 L192.0 806.0 L193.5 806.0 L195.0 805.9 L196.5 805.9 L198.0 805.8 L199.5 805.8 L201.0 805.7 L202.5 805.7 L204.0 805.6 L205.5 805.5 L207.0 805.4 L208.5 805.4 L210.0 805.3 L211.5 805.3 L213.0 805.3 L214.5 805.4 L216.0 805.4 L217.5 805.5 L219.0 805.7 L220.5 805.8 L222.0 805.9 L223.5 806.1 L225.0 806.2 L226.5 806.4 L228.0 806.5 L229.5 806.7 L231.0 806.9 L232.5 807.0 L234.0 807.2 L235.5 807.3 L237.0 807.4 L238.5 807.6 L240.0 807.7 L241.5 807.8 L243.0 808.0 L244.5 808.1 L246.0 808.2 L247.5 808.3 L249.0 808.4 L250.5 808.5 L252.0 808.6 L253.5 808.6 L255.0 808.7 L256.5 808.7 L258.0 808.8 L259.5 808.8 L261.0 808.9 L262.5 808.9 L264.0 808.9 L265.5 808.9 L267.0 808.9 L268.5 808.9 L270.0 808.9 L271.5 808.9 L273.0 808.9 L274.5 808.9 L276.0 808.8 L277.5 808.8 L279.0 808.8 L280.5 808.7 L282.0 808.7 L283.5 808.7 L285.0 808.6 L286.5 808.6 L288.0 808.5 L289.5 808.5 L291.0 808.4 L292.5 808.4 L294.0 808.3 L295.5 808.3 L297.0 808.3 L298.5 808.2 L300.0 808.2 L301.5 808.2 L303.0 808.1 L304.5 808.1 L306.0 808.1 L307.5 808.0 L309.0 808.0 L310.5 808.0 L312.0 808.0 L313.5 807.9 L315.0 807.9 L316.5 807.8 L318.0 807.8 L319.5 807.7 L321.0 807.6 L322.5 807.6 L324.0 807.5 L325.5 807.4 L327.0 807.2 L328.5 807.1 L330.0 806.9 L331.5 806.7 L333.0 806.5 L334.5 806.3 L336.0 806.0 L337.5 805.7 L339.0 805.4 L340.5 805.1 L342.0 804.8 L343.5 804.5 L345.0 804.2 L346.5 804.0 L348.0 803.7 L349.5 803.5 L351.0 803.3 L352.5 803.0 L354.0 802.8 L355.5 802.6 L357.0 802.4 L358.5 802.2 L360.0 802.0 L361.5 801.8 L363.0 801.6 L364.5 801.5 L366.0 801.3 L367.5 801.1 L369.0 800.9 L370.5 800.8 L372.0 800.6 L373.5 800.4 L375.0 800.2 L376.5 800.0 L378.0 799.8 L379.5 799.5 L381.0 799.3 L382.5 799.0 L384.0 798.7 L385.5 798.4 L387.0 798.1 L388.5 797.8 L390.0 797.5 L391.5 797.2 L393.0 796.8 L394.5 796.4 L396.0 796.0 L397.5 795.7 L399.0 795.3 L400.5 794.9 L402.0 794.5 L403.5 794.1 L405.0 793.8 L406.5 793.4 L408.0 793.1 L409.5 792.8 L411.0 792.5 L412.5 792.4 L414.0 792.2 L415.5 792.2 L417.0 792.2 L418.5 792.2 L420.0 792.2 L421.5 792.3 L423.0 792.4 L424.5 792.5 L426.0 792.6 L427.5 792.7 L429.0 792.8 L430.5 792.9 L432.0 793.0 L433.5 793.1 L435.0 793.2 L436.5 793.3 L438.0 793.5 L439.5 793.5 L441.0 793.6 L442.5 793.7 L444.0 793.8 L445.5 793.7 L447.0 793.7 L448.5 793.5 L450.0 793.3 L451.5 793.0 L453.0 792.7 L454.5 792.3 L456.0 791.9 L457.5 791.3 L459.0 790.7 L460.5 790.0 L462.0 789.2 L463.5 788.3 L465.0 787.2 L466.5 786.0 L468.0 784.5 L469.5 782.8 L471.0 781.2 L472.5 779.5 L474.0 777.9 L475.5 776.3 L477.0 775.0 L478.5 774.1 L480.0 773.6 L481.5 773.5 L483.0 773.6 L484.5 774.0 L486.0 774.5 L487.5 775.3 L489.0 776.1 L490.5 776.9 L492.0 777.8 L493.5 778.8 L495.0 779.7 L496.5 780.6 L498.0 781.6 L499.5 782.5 L501.0 783.4 L502.5 784.3 L504.0 785.2 L505.5 786.0 L507.0 786.7 L508.5 787.5 L510.0 788.2 L511.5 788.9 L513.0 789.5 L514.5 790.0 L516.0 790.5 L517.5 790.9 L519.0 791.2 L520.5 791.5 L522.0 791.6 L523.5 791.8 L525.0 791.8 L526.5 791.8 L528.0 791.8 L529.5 791.7 L531.0 791.7 L532.5 791.6 L534.0 791.5 L535.5 791.5 L537.0 791.4 L538.5 791.3 L540.0 791.1 L541.5 790.9 L543.0 790.6 L544.5 790.3 L546.0 789.9 L547.5 789.5 L549.0 789.1 L550.5 788.6 L552.0 788.2 L553.5 787.8 L555.0 787.4 L556.5 786.9 L558.0 786.5 L559.5 786.0 L561.0 785.5 L562.5 784.9 L564.0 784.4 L565.5 783.8 L567.0 783.1 L568.5 782.4 L570.0 781.7 L571.5 781.0 L573.0 780.2 L574.5 779.4 L576.0 778.6 L577.5 777.8 L579.0 776.9 L580.5 776.0 L582.0 775.2 L583.5 774.3 L585.0 773.3 L586.5 772.4 L588.0 771.4 L589.5 770.4 L591.0 769.5 L592.5 768.6 L594.0 767.7 L595.5 766.8 L597.0 766.1 L598.5 765.4 L600.0 764.7 L601.5 764.1 L603.0 763.6 L604.5 763.3 L606.0 763.1 L607.5 763.0 L609.0 763.1 L610.5 763.3 L612.0 763.7 L613.5 764.3 L615.0 765.0 L616.5 765.8 L618.0 766.7 L619.5 767.6 L621.0 768.4 L622.5 769.3 L624.0 770.1 L625.5 770.8 L627.0 771.5 L628.5 772.1 L630.0 772.6 L631.5 773.0 L633.0 773.2 L634.5 773.4 L636.0 773.5 L637.5 773.5 L639.0 773.5 L640.5 773.5 L642.0 773.5 L643.5 773.5 L645.0 773.4 L646.5 773.4 L648.0 773.4 L649.5 773.4 L651.0 773.3 L652.5 773.3 L654.0 773.3 L655.5 773.3 L657.0 773.3 L658.5 773.2 L660.0 773.1 L661.5 773.0 L663.0 772.8 L664.5 772.5 L666.0 772.1 L667.5 771.7 L669.0 771.3 L670.5 770.9 L672.0 770.6 L673.5 770.2 L675.0 769.9 L676.5 769.6 L678.0 769.5 L679.5 769.4 L681.0 769.6 L682.5 769.9 L684.0 770.3 L685.5 770.8 L687.0 771.4 L688.5 772.0 L690.0 772.6 L691.5 773.1 L693.0 773.4 L694.5 773.7 L696.0 773.8 L697.5 773.9 L699.0 774.0 L700.5 773.9 L702.0 773.9 L703.5 773.8 L705.0 773.7 L706.5 773.6 L708.0 773.5 L709.5 773.5 L711.0 773.5 L712.5 773.5 L714.0 773.5 L715.5 773.5 L717.0 773.6 L718.5 773.6 L720.0 773.6 L721.5 773.7 L723.0 773.7 L724.5 773.8 L726.0 773.8 L727.5 773.9 L729.0 773.9 L730.5 774.0 L732.0 774.0 L733.5 774.0 L735.0 773.9 L736.5 773.8 L738.0 773.5 L739.5 773.1 L741.0 772.6 L742.5 772.1 L744.0 771.4 L745.5 770.7 L747.0 770.0 L748.5 769.2 L750.0 768.5 L751.5 767.7 L753.0 766.9 L754.5 766.2 L756.0 765.5 L757.5 764.8 L759.0 764.2 L760.5 763.7 L762.0 763.2 L763.5 762.6 L765.0 761.8 L766.5 760.9 L768.0 759.8 L769.5 758.6 L771.0 757.4 L772.5 756.1 L774.0 754.8 L775.5 753.6 L777.0 752.4 L778.5 751.3 L780.0 750.2 L781.5 749.2 L783.0 748.4 L784.5 747.8 L786.0 747.2 L787.5 746.5 L789.0 745.8 L790.5 744.9 L792.0 743.8 L793.5 742.6 L795.0 741.4 L796.5 740.2 L798.0 739.2 L799.5 738.2 L801.0 737.4 L802.5 736.6 L804.0 736.0 L805.5 735.4 L807.0 734.9 L808.5 734.4 L810.0 733.9 L811.5 733.3 L813.0 732.6 L814.5 731.8 L816.0 730.9 L817.5 729.8 L819.0 728.6 L820.5 727.3 L822.0 726.1 L823.5 724.9 L825.0 723.8 L826.5 722.7 L828.0 721.8 L829.5 720.9 L831.0 720.2 L832.5 719.5 L834.0 719.0 L835.5 718.5 L837.0 718.1 L838.5 717.7 L840.0 717.4 L841.5 717.1 L843.0 717.0 L844.5 717.0 L846.0 717.1 L847.5 717.4 L849.0 717.7 L850.5 718.2 L852.0 718.8 L853.5 719.5 L855.0 720.2 L856.5 721.0 L858.0 721.8 L859.5 722.6 L861.0 723.5 L862.5 724.4 L864.0 725.2 L865.5 725.9 L867.0 726.5 L868.5 726.9 L870.0 727.2 L871.5 727.2 L873.0 727.1 L874.5 726.9 L876.0 726.6 L877.5 726.2 L879.0 725.7 L880.5 725.3 L882.0 724.9 L883.5 724.5 L885.0 724.1 L886.5 723.7 L888.0 723.3 L889.5 723.0 L891.0 722.5 L892.5 722.1 L894.0 721.5 L895.5 720.9 L897.0 720.1 L898.5 719.2 L900.0 718.2 L901.5 717.1 L903.0 716.0 L904.5 714.9 L906.0 713.8 L907.5 712.8 L909.0 711.7 L910.5 710.6 L912.0 709.2 L913.5 707.7 L915.0 706.0 L916.5 704.3 L918.0 702.5 L919.5 700.6 L921.0 698.7 L922.5 696.6 L924.0 694.5 L925.5 692.2 L927.0 689.8 L928.5 687.3 L930.0 684.5 L931.5 681.5 L933.0 678.0 L934.5 674.2 L936.0 669.9 L937.5 665.5 L939.0 661.0 L940.5 656.5 L942.0 652.0 L943.5 647.6 L945.0 643.6 L946.5 639.7 L948.0 635.6 L949.5 631.6 L951.0 627.8 L952.5 624.3 L954.0 621.1 L955.5 618.0 L957.0 614.9 L958.5 611.5 L960.0 607.7 L961.5 602.8 L963.0 597.0 L964.5 590.7 L966.0 583.7 L967.5 576.6 L969.0 569.4 L970.5 562.2 L972.0 555.4 L973.5 549.2 L975.0 542.7 L976.5 536.1 L978.0 529.3 L979.5 522.3 L981.0 515.0 L982.5 507.0 L984.0 499.8 L985.5 494.1 L987.0 489.5 L988.5 485.9 L990.0 483.2 L991.5 481.4 L993.0 480.2 L994.5 479.6 L996.0 479.3 L997.5 479.2 L999.0 479.4 L1000.5 479.8 L1002.0 480.8 L1003.5 482.2 L1005.0 484.1 L1006.5 486.3 L1008.0 488.3 L1009.5 490.1 L1011.0 491.4 L1012.5 492.0 L1014.0 492.1 L1015.5 491.6 L1017.0 490.1 L1018.5 487.8 L1020.0 485.0 L1021.5 481.9 L1023.0 479.1 L1024.5 476.9 L1026.0 475.2 L1027.5 474.0 L1029.0 473.0 L1030.5 472.2 L1032.0 471.4 L1033.5 470.8 L1035.0 470.4 L1036.5 470.3 L1038.0 470.7 L1039.5 472.3 L1041.0 474.7 L1042.5 477.1 L1044.0 479.5 L1045.5 481.4 L1047.0 482.7 L1048.5 483.1 L1050.0 482.7 L1051.5 481.7 L1053.0 480.4 L1054.5 479.4 L1056.0 478.8 L1057.5 478.9 L1059.0 479.9 L1060.5 481.7 L1062.0 485.1 L1063.5 489.7 L1065.0 494.0 L1066.5 498.2 L1068.0 503.0 L1069.5 508.5 L1071.0 514.8 L1072.5 522.0 L1074.0 529.8 L1075.5 538.1 L1077.0 546.3 L1078.5 554.3 L1080.0 562.3 L1081.5 570.4 L1083.0 578.6 L1084.5 586.0 L1086.0 591.1 L1087.5 596.7 L1089.0 602.4 L1090.5 607.8 L1092.0 612.0 L1093.5 615.2 L1095.0 617.6 L1096.5 619.1 L1098.0 619.7 L1099.5 619.3 L1101.0 617.8 L1102.5 615.8 L1104.0 613.2 L1105.5 610.4 L1107.0 607.6 L1108.5 605.3 L1110.0 603.9 L1111.5 603.3 L1113.0 603.8 L1114.5 605.5 L1116.0 609.0 L1117.5 613.9 L1119.0 619.4 L1120.5 625.0 L1122.0 630.6 L1123.5 636.2 L1125.0 642.2 L1126.5 648.3 L1128.0 653.4 L1129.5 658.0 L1131.0 662.4 L1132.5 666.5 L1134.0 670.4 L1135.5 673.9 L1137.0 677.0 L1138.5 679.5 L1140.0 681.4 L1141.5 682.7 L1143.0 683.5 L1144.5 684.0 L1146.0 684.2 L1147.5 684.1 L1149.0 683.9 L1150.5 683.7 L1152.0 683.9 L1153.5 684.4 L1155.0 685.3 L1156.5 686.8 L1158.0 688.6 L1159.5 690.7 L1161.0 692.8 L1162.5 695.0 L1164.0 697.1 L1165.5 699.2 L1167.0 701.3 L1168.5 703.4 L1170.0 705.5 L1171.5 707.8 L1173.0 710.2 L1174.5 712.6 L1176.0 715.1 L1177.5 717.5 L1179.0 719.8 L1180.5 722.0 L1182.0 724.1 L1183.5 726.1 L1185.0 728.0 L1186.5 729.8 L1188.0 731.5 L1189.5 733.0 L1191.0 734.4 L1192.5 735.6 L1194.0 736.7 L1195.5 737.8 L1197.0 738.8 L1198.5 739.8 L1200.0 740.8 L1201.5 741.9 L1203.0 742.9 L1204.5 744.0 L1206.0 745.0 L1207.5 746.1 L1209.0 747.2 L1210.5 748.2 L1212.0 749.3 L1213.5 750.3 L1215.0 751.3 L1216.5 752.4 L1218.0 753.3 L1219.5 754.3 L1221.0 755.2 L1222.5 756.1 L1224.0 756.9 L1225.5 757.8 L1227.0 758.6 L1228.5 759.4 L1230.0 760.2 L1231.5 761.0 L1233.0 761.9 L1234.5 762.8 L1236.0 763.7 L1237.5 764.6 L1239.0 765.4 L1240.5 766.3 L1242.0 767.1 L1243.5 767.9 L1245.0 768.6 L1246.5 769.4 L1248.0 770.1 L1249.5 770.7 L1251.0 771.3 L1252.5 772.0 L1254.0 772.6 L1255.5 773.2 L1257.0 773.8 L1258.5 774.5 L1260.0 775.1 L1261.5 775.7 L1263.0 776.4 L1264.5 777.0 L1266.0 777.6 L1267.5 778.2 L1269.0 778.7 L1270.5 779.2 L1272.0 779.7 L1273.5 780.1 L1275.0 780.6 L1276.5 781.1 L1278.0 781.6 L1279.5 782.2 L1281.0 782.8 L1282.5 783.4 L1284.0 784.0 L1285.5 784.7 L1287.0 785.3 L1288.5 785.9 L1290.0 786.5 L1291.5 787.1 L1293.0 787.6 L1294.5 788.1 L1296.0 788.5 L1297.5 788.8 L1299.0 789.1 L1300.5 789.3 L1302.0 789.6 L1303.5 789.8 L1305.0 790.0 L1306.5 790.2 L1308.0 790.4 L1309.5 790.5 L1311.0 790.6 L1312.5 790.7 L1314.0 790.8 L1315.5 790.9 L1317.0 791.0 L1318.5 791.1 L1320.0 791.2 L1321.5 791.2 L1323.0 791.3 L1324.5 791.3 L1326.0 791.3 L1327.5 791.4 L1329.0 791.4 L1330.5 791.4 L1332.0 791.5 L1333.5 791.5 L1335.0 791.5 L1336.5 791.5" stroke="#4daf4a"/>
</g>
<path d="M136.50 847.50 v5.5 M336.50 847.50 v5.5 M536.50 847.50 v5.5 M736.50 847.50 v5.5 M936.50 847.50 v5.5 M1136.50 847.50 v5.5 M1336.50 847.50 v5.5 M136.50 810.50 h-5.5 M136.50 696.50 h-5.5 M136.50 583.50 h-5.5 M136.50 469.50 h-5.5 M136.50 356.50 h-5.5 M136.50 242.50 h-5.5 M136.50 129.50 h-5.5" stroke="#000" stroke-width="1.11" fill="none"/>
<rect x="136.5" y="37.5" width="1200" height="810" fill="none" stroke="#000" stroke-width="1.11"/>
<g font-family="'DejaVu Sans', 'Liberation Sans', sans-serif" font-size="50" fill="#000">
<text x="120.90" y="894.3">0</text>
<text x="321.60" y="895.3">5</text>
<text x="505.40 535.60" y="894.3">10</text>
<text x="705.40 735.60" y="895.3">15</text>
<text x="905.40 935.60" y="894.3">20</text>
<text x="1105.40 1135.60" y="894.3">25</text>
<text x="1305.40 1335.60" y="894.3">30</text>
<text x="127.60" y="828.45" text-anchor="end">0</text>
<text x="127.60" y="714.95" text-anchor="end">1</text>
<text x="127.20" y="602.45" text-anchor="end">2</text>
<text x="127.60" y="487.95" text-anchor="end">3</text>
<text x="127.10" y="375.35" text-anchor="end">4</text>
<text x="127.60" y="261.95" text-anchor="end">5</text>
<text x="127.60" y="147.45" text-anchor="end">6</text>
</g>
<g font-family="'DejaVu Sans', 'Liberation Sans', sans-serif" font-size="58.3" fill="#000">
<text x="736.75" y="954.5" text-anchor="middle" textLength="345.4" lengthAdjust="spacing">Energy (eV)</text>
<text transform="translate(77.25 441.9) rotate(-90)" text-anchor="middle" textLength="631.3" lengthAdjust="spacing">Energy loss spectrum</text>
</g>
<rect x="1148.5" y="55.5" width="170" height="175" rx="6.9" ry="6.9" fill="#fff" fill-opacity="0.8" stroke="#ccc" stroke-opacity="0.8" stroke-width="1.39"/>
<path d="M1162 83.5 h75" stroke="#e41a1c" stroke-width="2.78" fill="none"/>
<path d="M1162 136.5 h75" stroke="#377eb8" stroke-width="2.78" fill="none"/>
<path d="M1162 194.5 h75" stroke="#4daf4a" stroke-width="2.78" fill="none"/>
<g font-family="'DejaVu Sans', 'Liberation Sans', sans-serif" font-style="italic" font-size="34.72" fill="#000">
<text transform="translate(1265.1 95.6) scale(1.035 1)" x="0" y="0">e<tspan x="21" font-size="24.304" dy="5.9">x</tspan></text>
<text transform="translate(1265.1 147.85) scale(1.035 1)" x="0" y="0">e<tspan x="21" font-size="24.304" dy="5.9">y</tspan></text>
<text transform="translate(1265.1 206.85) scale(1.035 1)" x="0" y="0">e<tspan x="21" font-size="24.304" dy="5.9">z</tspan></text>
</g>
</svg>
</body></html>
